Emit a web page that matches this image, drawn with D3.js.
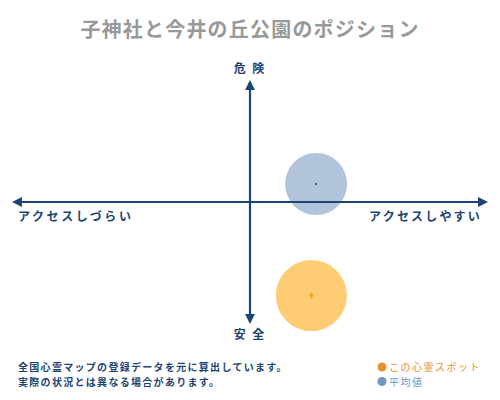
<!DOCTYPE html>
<html>
<head>
<meta charset="utf-8">
<script src="https://cdn.jsdelivr.net/npm/d3@7"></script>
<style>
  body { margin: 0; background: #fff; }
  text { font-family: "Noto Sans CJK JP", sans-serif; }
</style>
</head>
<body>
<div id="chart"></div>
<script>
var width = 500;
var height = 400;

// data
var seriesNames = ["この心霊スポット", "平均値"];
var accessValues = [0.26, 0.28];   // -1 = しづらい, 1 = しやすい
var dangerValues = [-0.78, 0.15];  // -1 = 安全, 1 = 危険
var sizeValues = [35.5, 31];
var seriesColors = ["#fdc35a", "#a3bad5"];
var dotColors = ["#f2a31b", "#1f3b5c"];
var legendColors = ["#e8902e", "#6f97bf"];
var axisLabels = ["危 険", "安 全", "アクセスしづらい", "アクセスしやすい"];
var notes = ["全国心霊マップの登録データを元に算出しています。", "実際の状況とは異なる場合があります。"];

var navy = "#1d4573";

var svg = d3.select("#chart").append("svg")
  .attr("width", width)
  .attr("height", height);

var x = d3.scaleLinear().domain([-1, 1]).range([14, 486]);
var y = d3.scaleLinear().domain([-1, 1]).range([322, 82]);
var r = d3.scaleLinear().domain([0, 1]).range([0, 1]);

// title
svg.append("text")
  .attr("x", width / 2)
  .attr("y", 37)
  .attr("text-anchor", "middle")
  .style("font-size", "20px")
  .style("font-weight", "bold")
  .style("letter-spacing", "1.2px")
  .style("fill", "#999999")
  .text("子神社と今井の丘公園のポジション");

// arrow markers
var defs = svg.append("defs");
defs.append("marker")
  .attr("id", "arrow")
  .attr("viewBox", "0 0 10 10")
  .attr("refX", 8).attr("refY", 5)
  .attr("markerWidth", 4.5).attr("markerHeight", 4.5)
  .attr("orient", "auto-start-reverse")
  .append("path")
    .attr("d", "M0,0 L10,5 L0,10 z")
    .style("fill", navy);

// bubbles
var data = seriesNames.map(function(d, i) {
  return { name: d, ax: accessValues[i], dg: dangerValues[i], size: sizeValues[i], i: i };
});

svg.selectAll("circle.bubble")
  .data(data)
  .enter()
  .append("circle")
    .attr("class", "bubble")
    .attr("cx", function(d) { return x(d.ax); })
    .attr("cy", function(d) { return y(d.dg); })
    .attr("r", function(d) { return r(d.size); })
    .style("fill", function(d) { return seriesColors[d.i]; })
    .style("opacity", 0.85);

// axes
svg.append("line")
  .attr("x1", x(-1)).attr("x2", x(1))
  .attr("y1", y(0)).attr("y2", y(0))
  .attr("marker-start", "url(#arrow)")
  .attr("marker-end", "url(#arrow)")
  .style("stroke", navy)
  .style("stroke-width", 2.2);

svg.append("line")
  .attr("x1", x(0)).attr("x2", x(0))
  .attr("y1", y(-1)).attr("y2", y(1))
  .attr("marker-start", "url(#arrow)")
  .attr("marker-end", "url(#arrow)")
  .style("stroke", navy)
  .style("stroke-width", 2.2);

// center dots
svg.selectAll("path.dot")
  .data(data)
  .enter()
  .append("path")
    .attr("class", "dot")
    .attr("transform", function(d) { return "translate(" + x(d.ax) + "," + y(d.dg) + ")"; })
    .attr("d", function(d) {
      return d3.symbol().type(d.i == 0 ? d3.symbolDiamond : d3.symbolCircle).size(d.i == 0 ? 14 : 3)();
    })
    .style("fill", function(d) { return dotColors[d.i]; });

// axis labels
var lab = svg.append("g")
  .style("fill", navy)
  .style("font-size", "12px")
  .style("font-weight", "bold");

lab.append("text").attr("x", x(0)).attr("y", 73)
  .attr("text-anchor", "middle").style("letter-spacing", "2px")
  .text(axisLabels[0]);
lab.append("text").attr("x", x(0)).attr("y", 339)
  .attr("text-anchor", "middle").style("letter-spacing", "2px")
  .text(axisLabels[1]);
lab.append("text").attr("x", 18).attr("y", 221)
  .style("letter-spacing", "2.6px")
  .text(axisLabels[2]);
lab.append("text").attr("x", 482).attr("y", 221)
  .attr("text-anchor", "end").style("letter-spacing", "2.2px")
  .text(axisLabels[3]);

// notes
svg.selectAll("text.note")
  .data(notes)
  .enter()
  .append("text")
    .attr("class", "note")
    .attr("x", 18)
    .attr("y", function(d, i) { return 371 + i * 15; })
    .style("font-size", "10px")
    .style("font-weight", "bold")
    .style("letter-spacing", "1.3px")
    .style("fill", navy)
    .text(function(d) { return d; });

// legend
var legend = svg.selectAll("g.legend")
  .data(data)
  .enter()
  .append("g")
    .attr("class", "legend")
    .attr("transform", function(d, i) { return "translate(382," + (367 + i * 14.5) + ")"; });

legend.append("circle")
  .attr("r", 4.5)
  .style("fill", function(d) { return legendColors[d.i]; });

legend.append("text")
  .attr("x", 7)
  .attr("y", 4)
  .style("font-size", "10px")
  .style("letter-spacing", "1.5px")
  .style("fill", function(d) { return legendColors[d.i]; })
  .text(function(d) { return d.name; });
</script>
</body>
</html>
